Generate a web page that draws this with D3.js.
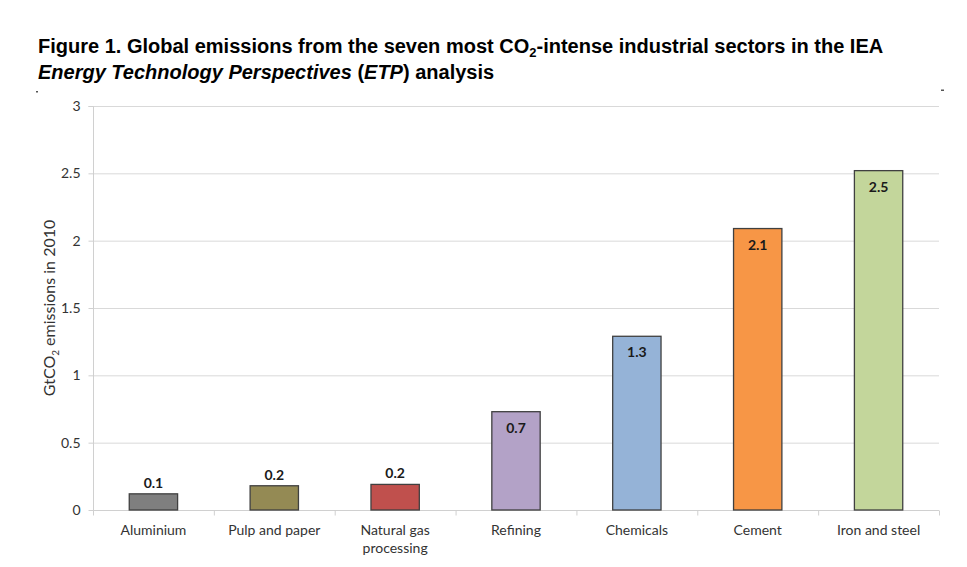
<!DOCTYPE html>
<html><head><meta charset="utf-8">
<script src="https://cdn.jsdelivr.net/npm/d3@7"></script>
<style>body{margin:0;background:#fff}svg{display:block}</style>
</head><body>
<svg id="c" width="967" height="567"></svg>
<script>
const categories = ["Aluminium","Pulp and paper","Natural gas\nprocessing","Refining","Chemicals","Cement","Iron and steel"];
const values = [0.12, 0.18, 0.19, 0.73, 1.29, 2.09, 2.52];
const labels = ["0.1","0.2","0.2","0.7","1.3","2.1","2.5"];
const colors = ["#7f7f7f","#948a54","#c0504d","#b3a2c7","#95b3d7","#f79646","#c3d69b"];
const yTicks = [0,0.5,1,1.5,2,2.5,3];

const svg = d3.select("#c");
const m = {left:93, right:939, top:106, bottom:510};
const x = d3.scaleBand().domain(d3.range(categories.length)).range([m.left,m.right]).padding(0);
const y = d3.scaleLinear().domain([0,3]).range([m.bottom,m.top]);

// title
const t = svg.append("text").attr("x",38).attr("y",53)
  .style("font-family","'Liberation Sans',Arial,sans-serif").style("font-weight","bold").style("font-size","20px").attr("fill","#000");
t.append("tspan").text("Figure 1. Global emissions from the seven most CO");
t.append("tspan").text("2").style("font-size","13px").attr("dy",4);
t.append("tspan").text("-intense industrial sectors in the IEA").attr("dy",-4);
const t2 = svg.append("text").attr("x",38).attr("y",79)
  .style("font-family","'Liberation Sans',Arial,sans-serif").style("font-weight","bold").style("font-size","20px").attr("fill","#000");
t2.append("tspan").text("Energy Technology Perspectives").style("font-style","italic");
t2.append("tspan").text(" (");
t2.append("tspan").text("ETP").style("font-style","italic");
t2.append("tspan").text(") analysis");

// small marks
svg.append("rect").attr("x",36).attr("y",91).attr("width",2).attr("height",1.5).attr("fill","#555");
svg.append("rect").attr("x",941).attr("y",89.5).attr("width",3).attr("height",1.5).attr("fill","#555");

// gridlines
svg.append("g").selectAll("line").data(yTicks.slice(1)).join("line")
  .attr("x1",m.left).attr("x2",m.right).attr("y1",d=>y(d)+0.5).attr("y2",d=>y(d)+0.5)
  .attr("stroke","#d9d9d9").attr("stroke-width",1);

// y axis
const ya = svg.append("g").attr("transform",`translate(${m.left+0.5},0)`)
  .call(d3.axisLeft(y).tickValues(yTicks).tickSize(5).tickPadding(8).tickFormat(d3.format("")));
ya.select(".domain").attr("stroke","#d0d0d0").attr("d",`M-5,${m.top+0.5}H0V${m.bottom+0.5}`);
ya.selectAll(".tick line").attr("stroke","#d0d0d0");
ya.selectAll(".tick").attr("transform",d=>`translate(0,${y(d)+0.5})`);
ya.selectAll("text").style("font-family","Lato,'Open Sans',sans-serif").style("font-size","14px").attr("fill","#333");

// x axis
const xa = svg.append("g").attr("transform",`translate(0,${m.bottom+0.5})`);
xa.append("line").attr("x1",m.left).attr("x2",m.right).attr("stroke","#d0d0d0");
xa.selectAll(".tk").data(d3.range(categories.length+1)).join("line")
  .attr("x1",i=>(i<categories.length?x(i):m.right)+0.5).attr("x2",i=>(i<categories.length?x(i):m.right)+0.5)
  .attr("y1",0).attr("y2",5).attr("stroke","#d0d0d0");
categories.forEach((c,i)=>{
  const tx = xa.append("text").attr("text-anchor","middle")
    .style("font-family","Lato,'Open Sans',sans-serif").style("font-size","14px").attr("fill","#333");
  c.split("\n").forEach((ln,j)=>{
    tx.append("tspan").attr("x",x(i)+x.bandwidth()/2).attr("y",24+j*18).text(ln);
  });
});

// bars
const bw = x.bandwidth()*0.4;
svg.append("g").selectAll("rect").data(values).join("rect")
  .attr("x",(d,i)=>x(i)+x.bandwidth()/2-bw/2).attr("width",bw)
  .attr("y",d=>y(d)).attr("height",d=>y(0)-y(d))
  .attr("fill",(d,i)=>colors[i]).attr("stroke","#404040").attr("stroke-width",1.3);

// value labels
svg.append("g").selectAll("text").data(values).join("text")
  .attr("x",(d,i)=>x(i)+x.bandwidth()/2)
  .attr("y",d=>d<0.5 ? y(d)-6 : y(d)+21)
  .attr("text-anchor","middle")
  .style("font-family","Lato,'Open Sans',sans-serif").style("font-weight","bold").style("font-size","14px").attr("fill","#1a1a1a")
  .text((d,i)=>labels[i]);

// y label
const yl = svg.append("text").attr("transform","translate(55,308) rotate(-90)").attr("text-anchor","middle")
  .style("font-family","Lato,'Open Sans',sans-serif").style("font-size","16px").attr("fill","#333");
yl.append("tspan").text("GtCO");
yl.append("tspan").text("2").style("font-size","10px").attr("dy",4);
yl.append("tspan").text(" emissions in 2010").attr("dy",-4);
</script>
</body></html>
